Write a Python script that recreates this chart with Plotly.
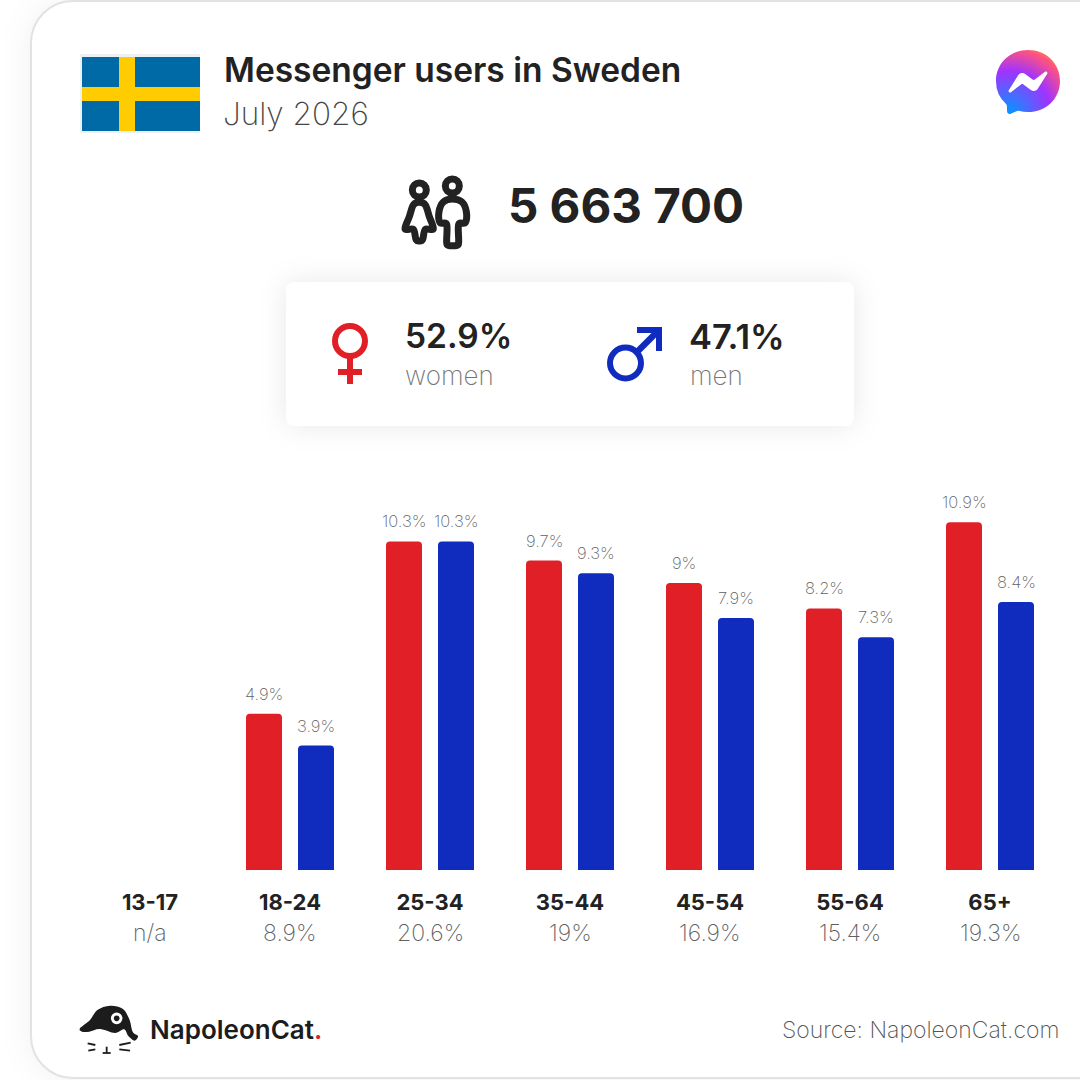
import base64
import plotly.graph_objects as go

# ---- data ----
age_groups = ["13-17", "18-24", "25-34", "35-44", "45-54", "55-64", "65+"]
women_pct = [None, 4.9, 10.3, 9.7, 9, 8.2, 10.9]
men_pct = [None, 3.9, 10.3, 9.3, 7.9, 7.3, 8.4]
age_share = ["n/a", "8.9%", "20.6%", "19%", "16.9%", "15.4%", "19.3%"]
title_text = "Messenger users in Sweden"
date_text = "July 2026"
total_users = "5 663 700"
women_total = "52.9%"
men_total = "47.1%"
source_text = "Source: NapoleonCat.com"

RED = "#e02026"
BLUE = "#0f2cbf"
INK = "#222222"
FONT = "Inter"
W = H = 1080


def px(x):
    return x / W


def py(y):
    return 1 - y / H


def path(pts, close=True):
    d = ""
    for i, (x, y) in enumerate(pts):
        d += ("M" if i == 0 else "L") + f"{px(x):.5f},{py(y):.5f} "
    return d + ("Z" if close else "")


def smooth(pts):
    """closed Catmull-Rom outline, through given points, as cubic segments"""
    n = len(pts)
    d = f"M{px(pts[0][0]):.5f},{py(pts[0][1]):.5f} "
    for i in range(n):
        p0, p1, p2, p3 = pts[i - 1], pts[i], pts[(i + 1) % n], pts[(i + 2) % n]
        c1 = (p1[0] + (p2[0] - p0[0]) / 6, p1[1] + (p2[1] - p0[1]) / 6)
        c2 = (p2[0] - (p3[0] - p1[0]) / 6, p2[1] - (p3[1] - p1[1]) / 6)
        d += (f"C{px(c1[0]):.5f},{py(c1[1]):.5f} {px(c2[0]):.5f},{py(c2[1]):.5f} "
              f"{px(p2[0]):.5f},{py(p2[1]):.5f} ")
    return d + "Z"


def rect(x0, y0, x1, y1, fill):
    return dict(type="rect", xref="paper", yref="paper", x0=px(x0), x1=px(x1),
                y0=py(y0), y1=py(y1), fillcolor=fill, line_width=0, layer="above")


def circle(cx, cy, r, fill="rgba(0,0,0,0)", stroke=None, sw=0):
    return dict(type="circle", xref="paper", yref="paper", x0=px(cx - r), x1=px(cx + r),
                y0=py(cy - r), y1=py(cy + r), fillcolor=fill,
                line=dict(color=stroke or "rgba(0,0,0,0)", width=sw), layer="above")


def line_path(d, color, width, fill="rgba(0,0,0,0)"):
    return dict(type="path", xref="paper", yref="paper", path=d, fillcolor=fill,
                line=dict(color=color, width=width), layer="above")


def svg_uri(svg):
    return "data:image/svg+xml;base64," + base64.b64encode(svg.encode()).decode()


background_svg = f'''<svg xmlns="http://www.w3.org/2000/svg" width="{W}" height="{H}" viewBox="0 0 {W} {H}">
<defs>
<filter id="a" x="-20%" y="-20%" width="140%" height="140%"><feGaussianBlur stdDeviation="16"/></filter>
<filter id="b" x="-30%" y="-60%" width="160%" height="220%"><feGaussianBlur stdDeviation="14"/></filter>
</defs>
<rect width="{W}" height="{H}" fill="#ffffff"/>
<rect x="31" y="1" width="1200" height="1077" rx="42" fill="#000" fill-opacity="0.06" filter="url(#a)"/>
<rect x="31" y="1" width="1200" height="1077" rx="42" fill="#fff" stroke="#e2e2e2" stroke-width="2"/>
<rect x="286" y="282" width="568" height="144" rx="8" fill="#000" fill-opacity="0.09" filter="url(#b)"/>
<rect x="286" y="282" width="568" height="144" rx="8" fill="#fff"/>
</svg>'''

messenger_svg = '''<svg xmlns="http://www.w3.org/2000/svg" width="128" height="128" viewBox="0 0 24 24">
<defs><radialGradient id="g" cx="19.25%" cy="99.45%" r="108.96%">
<stop offset="0" stop-color="#0099ff"/><stop offset="0.61" stop-color="#a033ff"/>
<stop offset="0.935" stop-color="#ff5280"/><stop offset="1" stop-color="#ff7061"/></radialGradient></defs>
<path fill="url(#g)" fill-rule="evenodd" d="M.001 11.639C.001 4.949 5.241 0 12.001 0S24 4.95 24 11.639c0 6.689-5.24 11.638-12 11.638-1.21 0-2.38-.16-3.47-.46a.96.96 0 00-.64.05l-2.39 1.05a.96.96 0 01-1.35-.85l-.07-2.14a.97.97 0 00-.32-.68A11.39 11.389 0 01.002 11.64zm8.32-2.19l-3.52 5.6c-.35.53.32 1.139.82.75l3.79-2.87c.26-.2.6-.2.87 0l2.8 2.1c.84.63 2.04.4 2.6-.48l3.52-5.6c.35-.53-.32-1.13-.82-.75l-3.79 2.87c-.25.2-.6.2-.86 0l-2.8-2.1a1.8 1.8 0 00-2.61.48z"/>
</svg>'''

images = [
    dict(source=svg_uri(background_svg), xref="paper", yref="paper", x=0, y=1, sizex=1, sizey=1,
         xanchor="left", yanchor="top", sizing="stretch", layer="below"),
    dict(source=svg_uri(messenger_svg), xref="paper", yref="paper", x=px(996), y=py(50),
         sizex=px(64), sizey=64 / H, xanchor="left", yanchor="top", sizing="stretch", layer="above"),
]

# ---- bars ----
fig = go.Figure()
fig.add_bar(name="women", x=age_groups, y=women_pct, marker_color=RED, marker_line_width=0)
fig.add_bar(name="men", x=age_groups, y=men_pct, marker_color=BLUE, marker_line_width=0)

# ---- icons ----
shapes = []
# flag
shapes += [rect(80, 54, 200, 133, "#eef1f3"), rect(82, 57, 200, 131, "#006aa7"),
           rect(119, 57, 135, 131, "#fecc00"), rect(82, 87, 200, 101, "#fecc00")]
# women symbol
shapes += [circle(350, 341, 15, stroke=RED, sw=6), rect(347, 358, 353, 384, RED), rect(338, 369, 362, 375, RED)]
# men symbol
shapes += [circle(625.5, 363, 15.5, stroke=BLUE, sw=6),
           dict(type="path", xref="paper", yref="paper", layer="above", line_width=0, fillcolor=BLUE,
                path=path([(637, 327), (662, 327), (662, 351), (656, 351), (656, 337.5),
                           (637, 356.5), (632.5, 352), (651.5, 333), (637, 333)]))]


def z(x, y):
    return (380 + x / 3, 170 + y / 3)


# people icon
shapes += [circle(*z(118, 60), 7, stroke=INK, sw=7), circle(*z(217, 48), 7, stroke=INK, sw=7)]
woman = [z(*p) for p in [(118, 97), (100, 105), (88, 140), (75, 177), (100, 178), (108, 208), (118, 213), (128, 208),
                         (136, 178), (160, 177), (148, 140), (136, 105)]]
shapes.append(line_path(smooth(woman), INK, 7))
man = [z(*p) for p in [(217, 87), (190, 96), (177, 125), (180, 158), (200, 163), (200, 215), (205, 226), (231, 226),
                       (236, 215), (236, 163), (256, 158), (259, 125), (246, 96)]]
shapes.append(line_path(smooth(man), INK, 7))


def c(x, y):
    return (x / 3, 960 + y / 3)


# cat logo
cat = [c(*p) for p in [(240, 205), (270, 180), (292, 150), (330, 137), (368, 146), (388, 178), (398, 215),
                       (414, 228), (404, 242), (385, 228), (372, 208), (345, 219), (300, 207), (268, 215), (246, 215)]]
shapes.append(dict(type="path", xref="paper", yref="paper", layer="above", path=smooth(cat),
                   fillcolor="#1c1c1c", line_width=0))
shapes += [circle(*c(350, 175), 5.8, fill="#ffffff"), circle(*c(350, 175), 2.8, fill="#1c1c1c")]
for a, b in [((263, 250), (286, 255)), ((265, 272), (286, 268)), ((358, 255), (392, 248)), ((358, 268), (390, 272)),
             ((320, 260), (320, 278)), ((308, 279), (332, 279))]:
    shapes.append(line_path(path([c(*a), c(*b)], close=False), "#1c1c1c", 1.8))


# ---- text ----
def label(x, y, text, size, color=INK, weight=400, xanchor="left", family=FONT):
    return dict(xref="paper", yref="paper", x=px(x), y=py(y), text=text, showarrow=False, xanchor=xanchor,
                yanchor="middle", borderpad=0, font=dict(family=family, size=size, color=color, weight=weight))


annotations = [
    label(223, 70, title_text, 33.5, INK, 600),
    label(222, 114, date_text, 31.5, "#444444", 200),
    label(507, 205, total_users, 47.5, INK, 700),
    label(404, 336, women_total, 33.5, INK, 600),
    label(404, 375, "women", 26, "#777777", 200),
    label(688, 336, men_total, 34.5, INK, 600),
    label(689, 375, "men", 26, "#777777", 200),
    label(149, 1029, f'NapoleonCat<span style="color:{RED}">.</span>', 26, "#1c1c1c", 600),
    label(1060, 1030, source_text, 23, "#555555", 200, xanchor="right"),
]
for group, share in zip(age_groups, age_share):
    annotations.append(dict(xref="x", yref="paper", x=group, y=py(933), text=share, showarrow=False,
                            yanchor="middle", font=dict(family=FONT, size=23, color="#5f5f5f", weight=200)))
for values, shift in ((women_pct, -26), (men_pct, 26)):
    for group, v in zip(age_groups, values):
        if v is not None:
            annotations.append(dict(xref="x", yref="y", x=group, y=v, text=f"{v}%", showarrow=False, xshift=shift,
                                    yshift=20, yanchor="middle",
                                    font=dict(family=FONT, size=16.5, color="#5f5f5f", weight=200)))

fig.update_layout(
    width=W, height=H, autosize=False, margin=dict(l=0, r=0, t=0, b=0, pad=0),
    paper_bgcolor="rgba(0,0,0,0)", plot_bgcolor="rgba(0,0,0,0)", showlegend=False,
    barmode="group", bargap=36 / 140, bargroupgap=16 / 52, barcornerradius=4,
    font=dict(family=FONT), images=images, shapes=shapes, annotations=annotations,
    xaxis=dict(type="category", categoryorder="array", categoryarray=age_groups, range=[-150 / 140, 930 / 140],
               showgrid=False, zeroline=False, showline=False, ticks="", ticklabelstandoff=17,
               tickfont=dict(family=FONT, size=22, color=INK, weight=700), fixedrange=True),
    yaxis=dict(domain=[210 / H, 1], range=[0, 870 / 31.9], visible=False, fixedrange=True),
)
fig.write_html("out.html", config=dict(displayModeBar=False),
               post_script="document.documentElement.style.margin='0';document.body.style.margin='0';document.body.style.overflow='hidden';")
